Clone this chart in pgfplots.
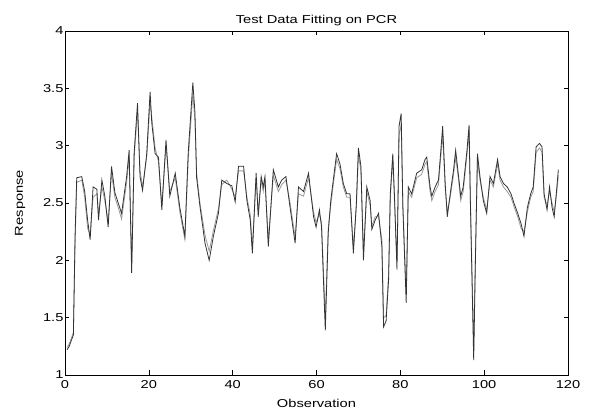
\documentclass[border=0pt]{standalone}
\usepackage{fontspec}
\setmainfont{Liberation Sans}[FakeStretch=1.28]
\usepackage{pgfplots}
\pgfplotsset{compat=1.18}
\begin{document}
\begin{tikzpicture}
\begin{axis}[
  at={(0,0)}, anchor=south west,
  scale only axis, width=503bp, height=344bp,
  xmin=0, xmax=120, ymin=1, ymax=4,
  xtick={0,20,...,120}, ytick={1,1.5,...,4},
  tick align=inside, tick pos=both,
  major tick length=4.5bp,
  axis line style={line width=0.9pt},
  every tick/.style={black, line width=0.6pt},
  /pgf/number format/assume math mode=true,
  tick label style={font=\fontsize{11.5}{13}\selectfont},
  xticklabel style={yshift=-2bp},
  yticklabel style={xshift=2bp},
  label style={font=\fontsize{11.5}{13}\selectfont},
  title style={font=\fontsize{11.5}{13}\selectfont, yshift=-4bp},
  title={Test Data Fitting on PCR},
  xlabel={Observation}, ylabel={Response},
  xlabel style={yshift=-4bp},
  ylabel style={yshift=11bp},
]
\addplot[color=black!40, line width=0.8pt] coordinates {
(0.5,1.24)(1,1.27)(2,1.37)(2.4,2.15)(2.8,2.68)(4,2.70)(4.7,2.55)(5.4,2.28)(6,2.22)
(6.7,2.55)(7.6,2.58)(8,2.40)(8.8,2.64)(9.5,2.52)(10.3,2.34)(11.1,2.76)(11.9,2.55)
(12.7,2.46)(13.5,2.36)(14.7,2.68)(15.3,2.90)(15.9,1.95)(16.5,2.90)(17.3,3.30)
(17.9,2.78)(18.5,2.64)(19.5,2.90)(20.3,3.38)(20.7,3.25)(21.5,2.98)(22.3,2.86)
(23.1,2.48)(24.1,3.00)(25,2.60)(26.3,2.72)(27.4,2.42)(28.6,2.18)(29.4,2.88)
(30.5,3.45)(31,3.22)(31.4,2.76)(32.2,2.50)(33.4,2.22)(34.4,2.08)(35.4,2.26)
(36.6,2.45)(37.4,2.66)(38.6,2.70)(39.8,2.62)(40.6,2.55)(41.4,2.78)(42.6,2.78)
(43.4,2.55)(44.2,2.40)(44.7,2.12)(45.6,2.72)(46.1,2.42)(46.8,2.70)(47.3,2.60)
(47.7,2.70)(48.5,2.18)(49.7,2.74)(50.9,2.60)(51.7,2.66)(52.7,2.70)(53.7,2.50)
(54.9,2.20)(55.7,2.58)(56.9,2.56)(58.1,2.72)(59.3,2.42)(59.9,2.33)(60.7,2.40)
(61.2,2.33)(62.1,1.50)(62.8,2.28)(63.4,2.48)(64,2.66)(64.8,2.88)(65.6,2.80)
(66.4,2.64)(67.2,2.55)(68,2.55)(68.8,2.12)(69.5,2.46)(70,2.92)(70.6,2.78)
(71.2,2.08)(72,2.60)(72.8,2.48)(73.2,2.30)(74,2.38)(74.8,2.38)(75.6,2.18)
(76,1.50)(76.6,1.52)(77.2,1.88)(77.6,2.54)(78.2,2.88)(78.6,2.52)(79.2,1.98)
(79.7,3.10)(80.2,3.18)(80.6,2.50)(81.4,1.70)(81.9,2.60)(82.7,2.55)(83.9,2.72)
(85.1,2.75)(85.9,2.84)(86.3,2.86)(87.1,2.60)(87.5,2.52)(88.3,2.60)(89.1,2.66)
(89.6,2.88)(90.1,3.10)(90.7,2.63)(91.2,2.42)(91.9,2.55)(92.7,2.75)(93.2,2.90)
(93.9,2.70)(94.4,2.52)(95,2.60)(95.9,2.92)(96.4,3.12)(96.7,2.56)(97.1,1.90)
(97.5,1.25)(97.9,2.02)(98.4,2.88)(99,2.70)(99.8,2.55)(100.6,2.44)(101.4,2.70)
(102.2,2.64)(103.2,2.84)(103.8,2.70)(104.6,2.64)(105.5,2.60)(106.4,2.55)
(107.2,2.46)(108,2.38)(108.8,2.28)(109.5,2.25)(110.3,2.42)(111.1,2.55)
(111.7,2.60)(112.4,2.94)(113.2,2.98)(113.8,2.94)(114.3,2.55)(115,2.48)
(115.6,2.60)(116.2,2.50)(116.7,2.42)(117.2,2.55)(117.7,2.74)
};
\addplot[color=black!80, line width=0.8pt] coordinates {
(0.5,1.22)(1,1.25)(2,1.35)(2.4,2.21)(2.8,2.72)(4,2.73)(4.7,2.60)(5.4,2.35)(6,2.18)
(6.7,2.64)(7.6,2.62)(8,2.35)(8.8,2.70)(9.5,2.56)(10.3,2.29)(11.1,2.82)(11.9,2.59)
(12.7,2.50)(13.5,2.41)(14.7,2.73)(15.3,2.96)(15.9,1.89)(16.5,2.94)(17.3,3.37)
(17.9,2.73)(18.5,2.61)(19.5,2.93)(20.3,3.47)(20.7,3.20)(21.5,2.93)(22.3,2.90)
(23.1,2.44)(24.1,3.05)(25,2.56)(26.3,2.76)(27.4,2.46)(28.6,2.21)(29.4,2.94)
(30.5,3.55)(31,3.29)(31.4,2.72)(32.2,2.47)(33.4,2.15)(34.4,2.00)(35.4,2.21)
(36.6,2.41)(37.4,2.70)(38.6,2.67)(39.8,2.65)(40.6,2.51)(41.4,2.82)(42.6,2.82)
(43.4,2.52)(44.2,2.35)(44.7,2.06)(45.6,2.76)(46.1,2.38)(46.8,2.73)(47.3,2.64)
(47.7,2.73)(48.5,2.12)(49.7,2.79)(50.9,2.64)(51.7,2.70)(52.7,2.73)(53.7,2.46)
(54.9,2.15)(55.7,2.64)(56.9,2.60)(58.1,2.76)(59.3,2.38)(59.9,2.29)(60.7,2.44)
(61.2,2.29)(62.1,1.39)(62.8,2.24)(63.4,2.52)(64,2.70)(64.8,2.93)(65.6,2.84)
(66.4,2.67)(67.2,2.58)(68,2.58)(68.8,2.06)(69.5,2.49)(70,2.98)(70.6,2.82)
(71.2,2.00)(72,2.64)(72.8,2.52)(73.2,2.27)(74,2.35)(74.8,2.41)(75.6,2.12)
(76,1.42)(76.6,1.47)(77.2,1.83)(77.6,2.58)(78.2,2.93)(78.6,2.56)(79.2,1.92)
(79.7,3.17)(80.2,3.28)(80.6,2.46)(81.4,1.63)(81.9,2.64)(82.7,2.58)(83.9,2.76)
(85.1,2.79)(85.9,2.88)(86.3,2.90)(87.1,2.64)(87.5,2.56)(88.3,2.64)(89.1,2.70)
(89.6,2.93)(90.1,3.17)(90.7,2.67)(91.2,2.38)(91.9,2.58)(92.7,2.79)(93.2,2.96)
(93.9,2.73)(94.4,2.56)(95,2.64)(95.9,2.96)(96.4,3.18)(96.7,2.52)(97.1,1.83)
(97.5,1.13)(97.9,1.98)(98.4,2.93)(99,2.73)(99.8,2.52)(100.6,2.41)(101.4,2.73)
(102.2,2.67)(103.2,2.88)(103.8,2.73)(104.6,2.67)(105.5,2.64)(106.4,2.58)
(107.2,2.49)(108,2.41)(108.8,2.32)(109.5,2.21)(110.3,2.46)(111.1,2.58)
(111.7,2.64)(112.4,2.99)(113.2,3.02)(113.8,2.99)(114.3,2.58)(115,2.44)
(115.6,2.64)(116.2,2.46)(116.7,2.38)(117.2,2.58)(117.7,2.79)
};
\end{axis}
\pgfresetboundingbox
\path[use as bounding box] (-65bp,-37bp) rectangle (529bp,375bp);
\end{tikzpicture}
\end{document}
